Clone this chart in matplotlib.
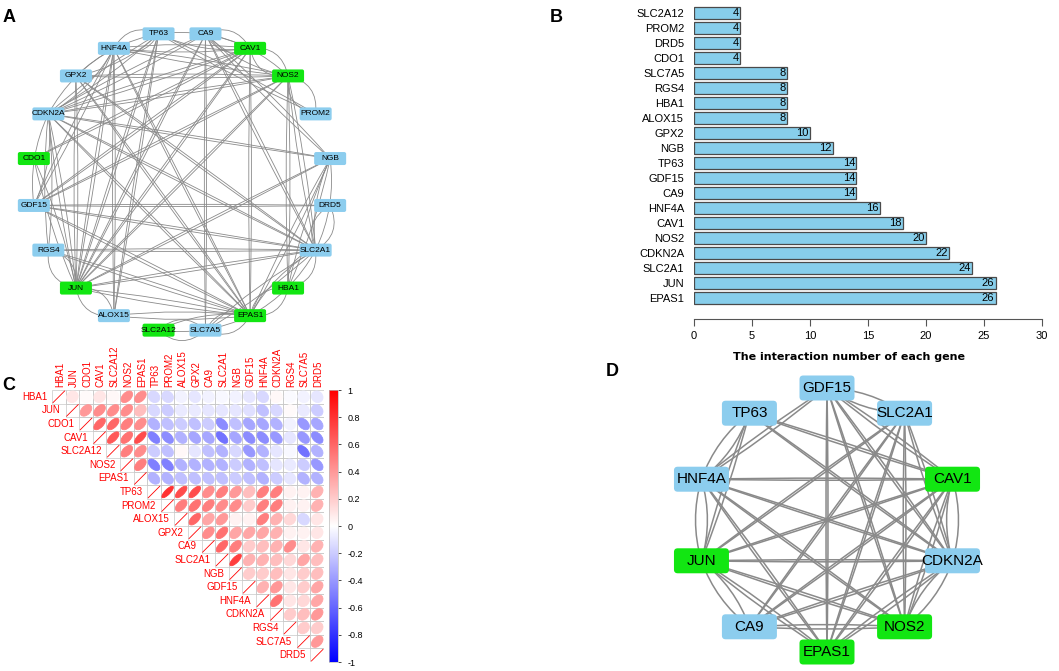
import numpy as np
import matplotlib
matplotlib.use('Agg')
import matplotlib.pyplot as plt
from matplotlib.patches import FancyBboxPatch, Ellipse, Rectangle, PathPatch
from matplotlib.path import Path
from matplotlib.colors import LinearSegmentedColormap

plt.rcParams['font.family'] = ['Liberation Sans', 'DejaVu Sans']

W, H = 1059, 671

# ---- data ----
# B: interaction counts (bottom to top)
bar_genes = ['EPAS1', 'JUN', 'SLC2A1', 'CDKN2A', 'NOS2', 'CAV1', 'HNF4A', 'CA9', 'GDF15', 'TP63',
             'NGB', 'GPX2', 'ALOX15', 'HBA1', 'RGS4', 'SLC7A5', 'CDO1', 'DRD5', 'PROM2', 'SLC2A12']
bar_counts = [26, 26, 24, 22, 20, 18, 16, 14, 14, 14, 12, 10, 8, 8, 8, 8, 4, 4, 4, 4]

# A: network nodes, clockwise from top
net_a_nodes = ['TP63', 'CA9', 'CAV1', 'NOS2', 'PROM2', 'NGB', 'DRD5', 'SLC2A1', 'HBA1', 'EPAS1',
               'SLC7A5', 'SLC2A12', 'ALOX15', 'JUN', 'RGS4', 'GDF15', 'CDO1', 'CDKN2A', 'GPX2', 'HNF4A']
green_genes = ['CAV1', 'NOS2', 'HBA1', 'EPAS1', 'SLC2A12', 'JUN', 'CDO1']

net_edges = [
    ('EPAS1', 'JUN'), ('EPAS1', 'SLC2A1'), ('EPAS1', 'CDKN2A'), ('EPAS1', 'CAV1'), ('EPAS1', 'HNF4A'), ('EPAS1', 'GDF15'),
    ('JUN', 'SLC2A1'), ('JUN', 'CDKN2A'), ('JUN', 'NOS2'), ('JUN', 'CAV1'), ('JUN', 'HNF4A'), ('JUN', 'CA9'), ('JUN', 'TP63'),
    ('SLC2A1', 'CDKN2A'), ('SLC2A1', 'NOS2'), ('SLC2A1', 'CA9'), ('SLC2A1', 'GDF15'),
    ('CDKN2A', 'NOS2'), ('CDKN2A', 'CAV1'), ('CDKN2A', 'HNF4A'), ('CDKN2A', 'CA9'), ('CDKN2A', 'GDF15'), ('CDKN2A', 'TP63'),
    ('NOS2', 'CAV1'), ('NOS2', 'HNF4A'), ('NOS2', 'CA9'), ('NOS2', 'GDF15'),
    ('CAV1', 'HNF4A'), ('CAV1', 'CA9'), ('CAV1', 'GDF15'), ('CAV1', 'TP63'),
    ('HNF4A', 'GDF15'), ('HNF4A', 'TP63'),
    ('NGB', 'SLC2A1'), ('NGB', 'EPAS1'), ('NGB', 'JUN'), ('NGB', 'CA9'), ('NGB', 'CDKN2A'),
    ('GPX2', 'JUN'), ('GPX2', 'EPAS1'), ('GPX2', 'NOS2'), ('GPX2', 'SLC2A1'), ('GPX2', 'TP63'),
    ('ALOX15', 'JUN'), ('ALOX15', 'EPAS1'), ('ALOX15', 'HNF4A'), ('ALOX15', 'TP63'),
    ('HBA1', 'EPAS1'), ('HBA1', 'SLC2A1'), ('HBA1', 'NOS2'),
    ('RGS4', 'JUN'), ('RGS4', 'SLC2A1'), ('RGS4', 'CDKN2A'), ('RGS4', 'EPAS1'),
    ('SLC7A5', 'EPAS1'), ('SLC7A5', 'CA9'), ('SLC7A5', 'SLC2A1'),
    ('CDO1', 'CAV1'), ('CDO1', 'JUN'),
    ('DRD5', 'SLC2A1'), ('DRD5', 'GDF15'),
    ('PROM2', 'TP63'), ('PROM2', 'NOS2'),
    ('SLC2A12', 'EPAS1'), ('SLC2A12', 'SLC7A5'), ('HBA1', 'NGB'),
]

# D: hub genes, clockwise from top
net_d_nodes = ['GDF15', 'SLC2A1', 'CAV1', 'CDKN2A', 'NOS2', 'EPAS1', 'CA9', 'JUN', 'HNF4A', 'TP63']

# C: correlation matrix (upper triangle, row by row)
corr_genes = ['HBA1', 'JUN', 'CDO1', 'CAV1', 'SLC2A12', 'NOS2', 'EPAS1', 'TP63', 'PROM2', 'ALOX15',
              'GPX2', 'CA9', 'SLC2A1', 'NGB', 'GDF15', 'HNF4A', 'CDKN2A', 'RGS4', 'SLC7A5', 'DRD5']
corr_upper = [
    [0.10, 0.02, 0.10, 0.03, 0.45, 0.45, -0.15, -0.15, -0.05, -0.10, -0.05, -0.03, -0.05, -0.10, -0.15, 0.03, -0.02, -0.05, -0.10],
    [0.40, 0.45, 0.45, 0.45, 0.25, -0.15, -0.20, -0.08, -0.08, -0.10, -0.10, -0.10, -0.12, -0.25, -0.15, 0.02, -0.08, -0.20],
    [0.60, 0.60, 0.50, 0.45, -0.30, -0.25, -0.20, -0.25, -0.20, -0.45, -0.25, -0.35, -0.35, -0.30, -0.05, -0.40, -0.35],
    [0.65, 0.55, 0.70, -0.50, -0.45, -0.30, -0.35, -0.35, -0.55, -0.35, -0.45, -0.45, -0.40, -0.10, -0.40, -0.45],
    [0.50, 0.45, -0.20, -0.25, 0.03, -0.10, -0.25, -0.30, -0.15, -0.40, -0.30, -0.10, -0.03, -0.55, -0.30],
    [0.50, -0.50, -0.50, -0.30, -0.30, -0.30, -0.30, -0.20, -0.30, -0.25, -0.10, -0.08, -0.20, -0.40],
    [-0.30, -0.30, -0.25, -0.25, -0.25, -0.25, -0.20, -0.25, -0.30, -0.20, -0.10, -0.30, -0.30],
    [0.80, 0.70, 0.70, 0.45, 0.50, 0.40, 0.25, 0.50, 0.50, 0.05, 0.05, 0.30],
    [0.50, 0.55, 0.50, 0.45, 0.45, 0.20, 0.50, 0.50, 0.05, 0.05, 0.30],
    [0.60, 0.35, 0.40, 0.05, 0.05, 0.50, 0.30, 0.15, -0.15, 0.10],
    [0.45, 0.55, 0.35, 0.35, 0.35, 0.30, 0.05, 0.05, 0.10],
    [0.60, 0.50, 0.20, 0.25, 0.30, 0.45, 0.10, 0.30],
    [0.75, 0.30, 0.30, 0.25, 0.15, 0.35, 0.25],
    [0.20, 0.20, 0.25, 0.10, 0.20, 0.25],
    [0.30, 0.40, 0.10, 0.20, 0.35],
    [0.55, 0.10, 0.15, 0.35],
    [0.20, 0.25, 0.40],
    [0.20, 0.20],
    [0.40],
]
cbar_ticks = [1, 0.8, 0.6, 0.4, 0.2, 0, -0.2, -0.4, -0.6, -0.8, -1]

GREEN = '#12E612'
BLUE = '#8CCDEE'


def px_rect(x0, y0, x1, y1):
    return [x0 / W, 1 - y1 / H, (x1 - x0) / W, (y1 - y0) / H]


fig = plt.figure(figsize=(W / 100, H / 100), dpi=100)

# ---- networks (pixel coordinate overlay) ----
ax_net = fig.add_axes([0, 0, 1, 1])
ax_net.set_xlim(0, W)
ax_net.set_ylim(H, 0)
ax_net.axis('off')


def draw_network(ax, order, edges, cx, cy, R, start_deg, bw, bh, fsize, lw):
    n = len(order)
    pos = {}
    for k, g in enumerate(order):
        a = np.deg2rad(start_deg - 360.0 * k / n)
        pos[g] = np.array([cx + R * np.cos(a), cy - R * np.sin(a)])
    for g1, g2 in edges:
        if g1 not in pos or g2 not in pos:
            continue
        p, q = pos[g1], pos[g2]
        d = q - p
        L = np.hypot(d[0], d[1])
        nrm = np.array([-d[1], d[0]]) / L
        bow = min(0.07 * R, 0.045 * R * (0.62 * R / L) ** 1.5)
        mid = (p + q) / 2
        for s in (1, -1):
            c = mid + s * 2 * bow * nrm
            path = Path([p, c, q], [Path.MOVETO, Path.CURVE3, Path.CURVE3])
            ax.add_patch(PathPatch(path, fc='none', ec='#8a8a8a', lw=lw, zorder=1))
    for g in order:
        x, y = pos[g]
        col = GREEN if g in green_genes else BLUE
        ax.add_patch(FancyBboxPatch((x - bw / 2, y - bh / 2), bw, bh,
                                    boxstyle='round,pad=0,rounding_size=%g' % (bh * 0.15),
                                    fc=col, ec='none', zorder=2))
        ax.text(x, y, g, ha='center', va='center', fontsize=fsize, zorder=3)


draw_network(ax_net, net_a_nodes, net_edges, 182, 182, 150, 99, 32, 13, 6, 0.6)
draw_network(ax_net, net_d_nodes, net_edges, 827, 520, 132, 90, 55, 25, 11, 1.1)

# ---- B: bar chart ----
axb = fig.add_axes(px_rect(694, 5.5, 1042, 305.5))
yy = np.arange(len(bar_genes))
axb.barh(yy, bar_counts, height=0.83, color='#87CEEB', edgecolor='#4a4a4a', linewidth=0.9)
for i, v in enumerate(bar_counts):
    axb.text(v - 0.12, i, str(v), ha='right', va='center', fontsize=8)
axb.set_xlim(0, 30)
axb.set_ylim(-0.5, len(bar_genes) - 0.5)
axb.set_yticks(yy)
axb.set_yticklabels(bar_genes, fontsize=8)
axb.tick_params(axis='y', length=0, pad=7)
axb.set_xticks(np.arange(0, 31, 5))
axb.tick_params(axis='x', length=5, color='#555555', labelsize=8, pad=4)
for s in ('left', 'top', 'right'):
    axb.spines[s].set_visible(False)
axb.spines['bottom'].set_position(('outward', 9.7))
axb.spines['bottom'].set_bounds(0, 30)
axb.spines['bottom'].set_color('#555555')
axb.patch.set_alpha(0)
fig.text(849 / W, 1 - 357 / H, 'The interaction number of each gene', ha='center', va='center',
         fontsize=8, fontweight='bold', family='DejaVu Sans')

# ---- C: correlation plot ----
cmap = LinearSegmentedColormap.from_list('bwr2', ['#0000FF', '#FFFFFF', '#FF0000'])
axc = fig.add_axes(px_rect(52, 390, 324, 662))
n = len(corr_genes)
axc.set_xlim(-0.5, n - 0.5)
axc.set_ylim(n - 0.5, -0.5)
axc.axis('off')
for i in range(n):
    for j in range(i, n):
        axc.add_patch(Rectangle((j - 0.5, i - 0.5), 1, 1, fill=False, ec='#c8c8c8', lw=0.5, zorder=1))
    axc.plot([i - 0.425, i + 0.425], [i + 0.425, i - 0.425], color='#FF0000', lw=0.6, zorder=3)
    for k, r in enumerate(corr_upper[i] if i < len(corr_upper) else []):
        j = i + 1 + k
        c = cmap((r + 1) / 2)
        axc.add_patch(Ellipse((j, i), 0.85 * np.sqrt(1 + r), 0.85 * np.sqrt(1 - r), angle=-45,
                              fc=c, ec=c, lw=0.6, zorder=2))
    axc.text(i - 0.5 - 0.35, i, corr_genes[i], ha='right', va='center', fontsize=7, color='#FF0000',
             clip_on=False)
    axc.text(i + 0.1, -0.75, corr_genes[i], ha='center', va='bottom', rotation=90, fontsize=7,
             color='#FF0000', clip_on=False)

cax = fig.add_axes(px_rect(329, 390, 338, 662))
cax.imshow(np.linspace(1, -1, 256)[:, None], aspect='auto', cmap=cmap, vmin=-1, vmax=1,
           extent=[0, 1, -1, 1])
cax.set_xticks([])
cax.yaxis.tick_right()
cax.set_yticks(cbar_ticks)
cax.set_yticklabels([('%g' % t) for t in cbar_ticks], fontsize=6.5)
cax.tick_params(axis='y', length=2, width=0.5, pad=5)
for s in cax.spines.values():
    s.set_linewidth(0.5)
    s.set_color('#bbbbbb')

# ---- panel letters ----
for lab, x, y in [('A', 9, 18), ('B', 556, 18), ('C', 9, 385), ('D', 612, 372)]:
    fig.text(x / W, 1 - y / H, lab, ha='center', va='center', fontsize=13, fontweight='bold')

fig.savefig('out.png', dpi=100)
